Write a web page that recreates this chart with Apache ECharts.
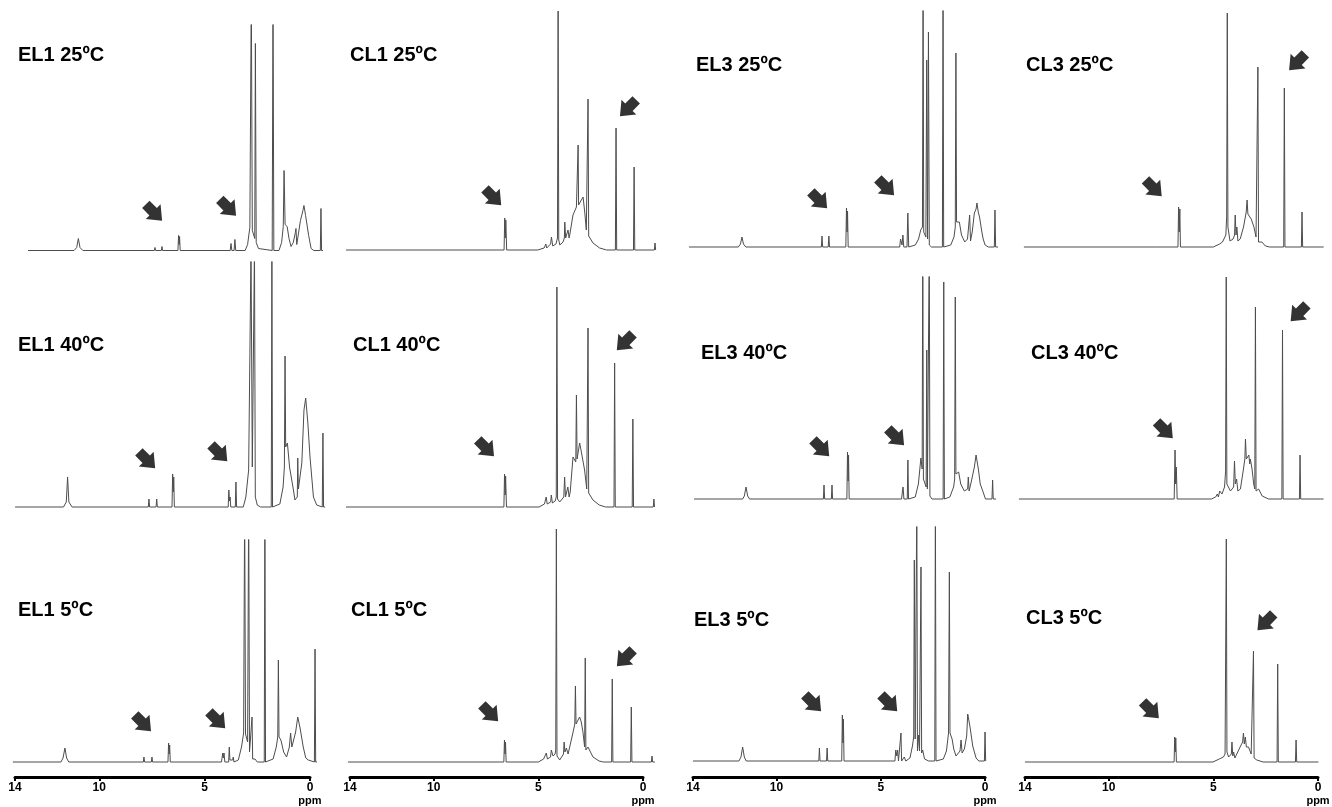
<!DOCTYPE html>
<html>
<head>
<meta charset="utf-8">
<script src="https://cdn.jsdelivr.net/npm/echarts@6/dist/echarts.min.js"></script>
<style>
html, body { margin: 0; padding: 0; background: #fff; }
#chart { width: 1332px; height: 807px; }
</style>
</head>
<body>
<div id="chart"></div>
<script>
// 1H NMR spectra, points are [ppm, intensity]
const EL1_25 = [[14.1,0],[11.85,0],[11.72,3],[11.64,12],[11.56,3],[11.42,0],
  [7.93,0],[7.9,3],[7.87,0],[7.59,0],[7.56,4],[7.53,0],
  [6.78,0],[6.75,15],[6.72,6],[6.7,14],[6.67,0],
  [4.23,0],[4.19,7],[4.15,0],[4.04,0],[4.0,11],[3.96,0],
  [3.5,0],[3.38,6],[3.27,23],[3.2,260],[3.15,20],[3.03,12],[3.0,207],[2.96,8],[2.85,2],[2.8,0],
  [2.18,0],[2.14,260],[2.1,0],
  [1.85,0],[1.72,8],[1.64,24],[1.6,80],[1.55,26],[1.45,24],[1.36,12],[1.26,4],[1.15,8],[1.05,18],[1.02,22],[0.98,6],[0.9,5],[0.8,30],[0.68,40],[0.63,45],[0.55,35],[0.48,33],[0.4,15],[0.28,2],[0.15,0],
  [-0.17,0],[-0.2,42],[-0.23,0],[-0.3,0]];
const CL1_25 = [[14.1,0],[6.76,0],[6.73,32],[6.7,12],[6.68,30],[6.64,0],
  [5.2,0],[4.9,2],[4.82,6],[4.78,2],[4.6,6],[4.56,13],[4.5,4],[4.35,6],[4.28,12],[4.25,239],[4.22,10],[4.17,5],[4.02,8],[3.96,12],[3.94,28],[3.9,12],[3.82,10],[3.79,20],[3.74,12],[3.71,15],[3.56,35],[3.4,43],[3.34,45],[3.32,105],[3.3,45],[3.25,47],[3.17,50],[3.09,53],[3.01,37],[2.94,20],[2.89,18],[2.86,151],[2.83,14],[2.78,13],[2.63,7],[2.32,2],[2.0,0],
  [1.59,0],[1.56,122],[1.53,0],[1.45,2],[1.42,0],
  [0.75,0],[0.72,83],[0.69,0],
  [-0.22,0],[-0.25,7],[-0.28,0],[-0.3,0]];
const EL3_25 = [[14.1,0],[11.8,0],[11.7,3],[11.63,10],[11.56,3],[11.45,0],
  [7.93,0],[7.9,11],[7.87,0],[7.61,0],[7.58,11],[7.55,0],
  [6.79,0],[6.76,39],[6.73,15],[6.71,36],[6.68,0],
  [4.28,0],[4.24,8],[4.21,10],[4.17,2],[4.13,12],[4.09,0],[3.94,0],[3.9,34],[3.86,0],
  [3.55,2],[3.4,8],[3.3,17],[3.22,20],[3.19,260],[3.16,15],[3.06,10],[3.02,187],[2.98,8],[2.94,215],[2.9,2],[2.8,0],
  [2.29,0],[2.26,260],[2.23,0],
  [1.9,2],[1.75,10],[1.69,20],[1.66,194],[1.63,25],[1.5,25],[1.4,12],[1.25,5],[1.12,8],[1.02,32],[0.98,6],[0.9,15],[0.8,34],[0.72,38],[0.68,44],[0.62,35],[0.56,30],[0.45,15],[0.39,8],[0.3,2],[0.15,0],
  [-0.13,0],[-0.16,37],[-0.19,0],[-0.3,0]];
const CL3_25 = [[14.1,0],[7.76,0],[7.73,1],[7.7,0],[6.7,0],[6.67,40],[6.64,15],[6.61,38],[6.58,0],
  [5.0,0],[4.7,3],[4.56,5],[4.4,12],[4.36,30],[4.33,234],[4.3,20],[4.2,6],[4.05,8],[3.98,12],[3.95,32],[3.91,12],[3.87,20],[3.82,6],[3.71,8],[3.55,20],[3.42,35],[3.38,47],[3.34,33],[3.27,35],[3.24,35],[3.18,28],[3.15,30],[3.05,20],[2.95,10],[2.89,8],[2.86,180],[2.83,5],[2.67,5],[2.5,1],[2.3,0],
  [1.62,0],[1.59,159],[1.56,0],
  [0.77,0],[0.74,35],[0.71,0],
  [-0.17,0],[-0.2,2],[-0.23,0],[-0.3,0]];
const EL1_40 = [[14.1,0],[11.85,0],[11.72,5],[11.66,30],[11.6,5],[11.45,0],
  [7.91,0],[7.88,8],[7.85,0],[7.55,0],[7.52,8],[7.49,0],
  [6.81,0],[6.78,33],[6.75,15],[6.73,30],[6.7,0],
  [4.2,0],[4.17,17],[4.14,6],[4.11,10],[4.08,0],[3.87,0],[3.84,25],[3.81,0],
  [3.5,0],[3.38,10],[3.25,37],[3.14,260],[3.08,40],[2.98,260],[2.94,10],[2.85,2],[2.7,0],
  [2.2,0],[2.17,260],[2.14,0],
  [1.8,3],[1.65,20],[1.59,40],[1.56,151],[1.53,60],[1.45,64],[1.35,40],[1.17,17],[1.1,7],[0.99,10],[0.97,49],[0.94,18],[0.86,20],[0.78,44],[0.68,97],[0.6,109],[0.5,84],[0.4,50],[0.24,10],[0.09,2],[0.0,0],
  [-0.17,0],[-0.2,74],[-0.23,0],[-0.3,0]];
const CL1_40 = [[14.1,0],[6.74,0],[6.71,33],[6.68,12],[6.66,31],[6.62,0],
  [5.1,0],[4.85,3],[4.77,10],[4.72,3],[4.56,5],[4.53,12],[4.48,4],[4.35,6],[4.3,10],[4.27,220],[4.24,8],[4.14,5],[3.95,10],[3.91,30],[3.87,10],[3.79,10],[3.76,20],[3.7,10],[3.65,15],[3.52,50],[3.39,45],[3.36,112],[3.33,48],[3.21,64],[3.13,55],[3.06,55],[2.98,37],[2.88,18],[2.82,179],[2.79,14],[2.72,12],[2.59,7],[2.3,2],[2.0,0],
  [1.61,0],[1.58,144],[1.55,0],
  [0.76,0],[0.73,88],[0.7,0],
  [-0.22,0],[-0.25,8],[-0.28,0],[-0.3,0]];
const EL3_40 = [[14.1,0],[11.78,0],[11.7,3],[11.62,12],[11.54,3],[11.45,0],
  [7.93,0],[7.9,14],[7.87,0],[7.55,0],[7.52,14],[7.49,0],
  [6.81,0],[6.78,47],[6.75,18],[6.73,44],[6.7,0],
  [4.2,0],[4.16,8],[4.13,12],[4.09,0],[3.93,0],[3.9,39],[3.87,0],
  [3.55,2],[3.4,15],[3.28,41],[3.22,30],[3.19,260],[3.16,20],[3.03,12],[3.0,149],[2.97,10],[2.91,10],[2.88,260],[2.85,3],[2.75,0],
  [2.22,0],[2.19,217],[2.16,0],
  [1.9,2],[1.72,12],[1.67,20],[1.64,202],[1.61,25],[1.48,27],[1.38,15],[1.21,8],[1.05,10],[1.02,22],[0.98,8],[0.85,20],[0.73,32],[0.65,44],[0.54,30],[0.45,15],[0.33,8],[0.2,0],
  [-0.11,0],[-0.14,19],[-0.17,0],[-0.3,0]];
const CL3_40 = [[14.1,0],[6.76,0],[6.72,49],[6.69,15],[6.66,32],[6.62,0],
  [5.0,0],[4.8,2],[4.72,5],[4.67,2],[4.61,8],[4.5,5],[4.38,12],[4.33,28],[4.3,222],[4.27,15],[4.1,8],[3.95,12],[3.91,38],[3.87,15],[3.81,20],[3.75,8],[3.63,10],[3.5,28],[3.42,40],[3.39,60],[3.35,40],[3.26,42],[3.23,44],[3.19,35],[3.16,40],[3.08,30],[3.0,15],[2.95,10],[2.92,192],[2.89,8],[2.77,10],[2.6,3],[2.3,0],
  [1.67,0],[1.64,169],[1.61,0],
  [0.84,0],[0.81,44],[0.78,0],
  [-0.17,0],[-0.2,2],[-0.23,0],[-0.3,0]];
const EL1_5 = [[14.1,0],[11.82,0],[11.72,4],[11.63,14],[11.55,4],[11.45,0],
  [7.91,0],[7.88,5],[7.85,0],[7.53,0],[7.5,5],[7.47,0],
  [6.74,0],[6.71,19],[6.68,8],[6.66,17],[6.63,0],
  [4.2,0],[4.14,9],[4.11,4],[4.08,9],[4.04,0],[3.86,0],[3.83,15],[3.8,2],[3.67,2],[3.64,5],[3.61,0],
  [3.4,2],[3.25,15],[3.15,29],[3.1,260],[3.06,28],[2.96,20],[2.91,260],[2.87,10],[2.78,8],[2.75,45],[2.72,3],[2.61,3],[2.5,0],
  [2.17,0],[2.14,260],[2.11,0],
  [1.75,3],[1.6,15],[1.53,25],[1.5,102],[1.47,25],[1.38,22],[1.25,10],[1.11,5],[0.98,15],[0.92,29],[0.86,15],[0.79,15],[0.68,30],[0.58,45],[0.47,34],[0.32,15],[0.2,4],[0.08,2],[0.0,0],
  [-0.21,0],[-0.24,113],[-0.27,0],[-0.33,0]];
const CL1_5 = [[14.1,0],[6.65,0],[6.62,22],[6.59,8],[6.57,20],[6.54,0],
  [5.0,0],[4.75,3],[4.62,9],[4.57,3],[4.42,5],[4.38,12],[4.3,6],[4.2,8],[4.17,12],[4.14,233],[4.11,6],[3.98,2],[3.8,8],[3.77,20],[3.73,10],[3.66,14],[3.58,8],[3.5,8],[3.34,30],[3.26,38],[3.23,76],[3.2,38],[3.11,39],[3.03,45],[2.95,40],[2.87,30],[2.79,15],[2.76,104],[2.73,12],[2.63,15],[2.39,5],[2.1,1],[1.9,0],
  [1.5,0],[1.47,83],[1.44,0],
  [0.59,0],[0.56,55],[0.53,0],
  [-0.4,0],[-0.43,6],[-0.46,0],[-0.57,0]];
const EL3_5 = [[14.0,0],[11.8,0],[11.7,4],[11.62,14],[11.54,4],[11.45,0],
  [7.97,0],[7.94,13],[7.91,0],[7.6,0],[7.57,13],[7.54,0],
  [6.87,0],[6.84,46],[6.81,18],[6.79,42],[6.76,0],
  [4.32,0],[4.28,11],[4.23,5],[4.19,11],[4.15,0],[4.06,0],[4.03,28],[4.0,0],[3.87,4],[3.8,0],
  [3.6,3],[3.48,15],[3.42,24],[3.39,201],[3.35,22],[3.3,22],[3.27,260],[3.24,10],[3.2,12],[3.18,26],[3.14,10],[3.1,8],[3.07,194],[3.04,8],[2.99,11],[2.9,2],[2.7,0],
  [2.41,0],[2.38,260],[2.35,0],
  [2.0,2],[1.85,10],[1.75,28],[1.71,189],[1.68,28],[1.58,22],[1.5,12],[1.39,5],[1.2,10],[1.15,21],[1.1,8],[0.99,12],[0.88,25],[0.83,47],[0.77,40],[0.72,34],[0.59,15],[0.43,3],[0.3,0],
  [0.03,0],[0.0,29],[-0.03,0],[-0.05,0]];
const CL3_5 = [[14.0,0],[6.86,0],[6.83,25],[6.8,10],[6.78,24],[6.75,0],
  [5.0,0],[4.7,3],[4.5,5],[4.42,8],[4.39,10],[4.36,223],[4.33,10],[4.25,5],[4.12,8],[4.09,20],[4.05,6],[4.01,10],[3.95,4],[3.86,5],[3.7,15],[3.58,20],[3.54,29],[3.5,18],[3.45,25],[3.4,15],[3.3,15],[3.17,8],[3.09,6],[3.06,111],[3.03,4],[2.9,2],[2.6,0],
  [1.93,0],[1.9,98],[1.87,0],
  [1.05,0],[1.02,22],[0.99,0],
  [-0.05,0]];

// arrows: [ppm, height, rotation]
const arrowsEL1_25 = [[7.95,38,-45],[4.34,43,-45]];
const arrowsCL1_25 = [[7.27,53,-45],[1.0,142,-135]];
const arrowsEL3_25 = [[8.04,47,-45],[4.92,60,-45]];
const arrowsCL3_25 = [[7.87,59,-45],[0.97,185,-135]];
const arrowsEL1_40 = [[7.97,47,-45],[4.62,54,-45]];
const arrowsCL1_40 = [[7.58,59,-45],[1.1,165,-135]];
const arrowsEL3_40 = [[8.04,51,-45],[4.47,62,-45]];
const arrowsCL3_40 = [[7.21,69,-45],[0.87,186,-135]];
const arrowsEL1_5 = [[7.93,39,-45],[4.41,42,-45]];
const arrowsCL1_5 = [[7.31,49,-45],[0.86,104,-135]];
const arrowsEL3_5 = [[8.25,58,-45],[4.6,58,-45]];
const arrowsCL3_5 = [[7.98,52,-45],[2.48,140,-135]];

const axisTicks = [0, 5, 10, 14];

// layout: x14 = pixel of 14 ppm, s = px per ppm, base/top = baseline and clip line
const panels = [
  {name: 'EL1 25ºC', data: EL1_25, arrows: arrowsEL1_25, x14: 30.0, s: 20.49, base: 250.5, top: 25, lx: 18, ly: 55},
  {name: 'CL1 25ºC', data: CL1_25, arrows: arrowsCL1_25, x14: 348.2, s: 21.53, base: 250, top: 8, lx: 350, ly: 55},
  {name: 'EL3 25ºC', data: EL3_25, arrows: arrowsEL3_25, x14: 691.1, s: 21.46, base: 247, top: 11, lx: 696, ly: 65},
  {name: 'CL3 25ºC', data: CL3_25, arrows: arrowsCL3_25, x14: 1026.1, s: 21.18, base: 247, top: 8, lx: 1026, ly: 65},
  {name: 'EL1 40ºC', data: EL1_40, arrows: arrowsEL1_40, x14: 17.2, s: 21.53, base: 507, top: 262, lx: 18, ly: 345},
  {name: 'CL1 40ºC', data: CL1_40, arrows: arrowsCL1_40, x14: 348.1, s: 21.46, base: 507, top: 280, lx: 353, ly: 345},
  {name: 'EL3 40ºC', data: EL3_40, arrows: arrowsEL3_40, x14: 696.1, s: 20.97, base: 499, top: 277, lx: 701, ly: 353},
  {name: 'CL3 40ºC', data: CL3_40, arrows: arrowsCL3_40, x14: 1021.1, s: 21.32, base: 499, top: 272, lx: 1031, ly: 353},
  {name: 'EL1 5ºC', data: EL1_5, arrows: arrowsEL1_5, x14: 15, s: 21.07, base: 762, top: 540, lx: 18, ly: 610, ruler: true},
  {name: 'CL1 5ºC', data: CL1_5, arrows: arrowsCL1_5, x14: 350, s: 20.93, base: 762, top: 525, lx: 351, ly: 610, ruler: true},
  {name: 'EL3 5ºC', data: EL3_5, arrows: arrowsEL3_5, x14: 693, s: 20.86, base: 761, top: 527, lx: 694, ly: 620, ruler: true},
  {name: 'CL3 5ºC', data: CL3_5, arrows: arrowsCL3_5, x14: 1025, s: 20.93, base: 762, top: 530, lx: 1026, ly: 618, ruler: true}
];

const FONT = '"Liberation Sans", Arial, sans-serif';
const ARROW = 'path://M0,5 L9,5 L9,0 L20,10 L9,20 L9,15 L0,15 Z';

let grid = [], xAxis = [], yAxis = [], series = [], graphic = [];

panels.forEach(function (p) {
    let i = grid.length;
    grid.push({left: p.x14 - 0.3 * p.s, width: 15 * p.s, top: p.top, height: p.base + 3 - p.top});
    xAxis.push({type: 'value', gridIndex: i, min: -0.7, max: 14.3, inverse: true, show: false});
    yAxis.push({type: 'value', gridIndex: i, min: -3, max: p.base - p.top, show: false});
    series.push({
        type: 'line', xAxisIndex: i, yAxisIndex: i, data: p.data,
        showSymbol: false, clip: true, silent: true,
        lineStyle: {color: '#4d4d4d', width: 1}
    });
    series.push({
        type: 'scatter', xAxisIndex: i, yAxisIndex: i, silent: true,
        symbol: ARROW, symbolSize: [23, 21],
        itemStyle: {color: '#000'},
        data: p.arrows.map(a => ({value: [a[0], a[1]], symbolRotate: a[2]}))
    });
    graphic.push({
        type: 'text', x: p.lx, y: p.ly,
        style: {text: p.name, fill: '#000', fontFamily: FONT, fontSize: 20, fontWeight: 'bold', textAlign: 'left', textVerticalAlign: 'middle'}
    });

    if (p.ruler) {
        // ppm scale under the bottom row
        let j = grid.length;
        grid.push({left: p.x14, width: 14 * p.s, top: 776, height: 1});
        xAxis.push({
            type: 'value', gridIndex: j, min: 0, max: 14, inverse: true,
            axisLine: {show: true, onZero: false, lineStyle: {color: '#000', width: 3}},
            axisTick: {show: true, customValues: axisTicks, length: 4, lineStyle: {color: '#000', width: 2}},
            axisLabel: {customValues: axisTicks, color: '#000', fontFamily: FONT, fontSize: 12, fontWeight: 'bold', margin: 5},
            splitLine: {show: false}
        });
        yAxis.push({type: 'value', gridIndex: j, show: false});
        graphic.push({
            type: 'text', x: p.x14 + 14 * p.s, y: 801,
            style: {text: 'ppm', fill: '#000', fontFamily: FONT, fontSize: 11, fontWeight: 'bold', textAlign: 'center', textVerticalAlign: 'middle'}
        });
    }
});

let myChart = echarts.init(document.getElementById('chart'));
myChart.setOption({
    animation: false,
    backgroundColor: '#fff',
    grid: grid,
    xAxis: xAxis,
    yAxis: yAxis,
    series: series,
    graphic: graphic
});
</script>
</body>
</html>
